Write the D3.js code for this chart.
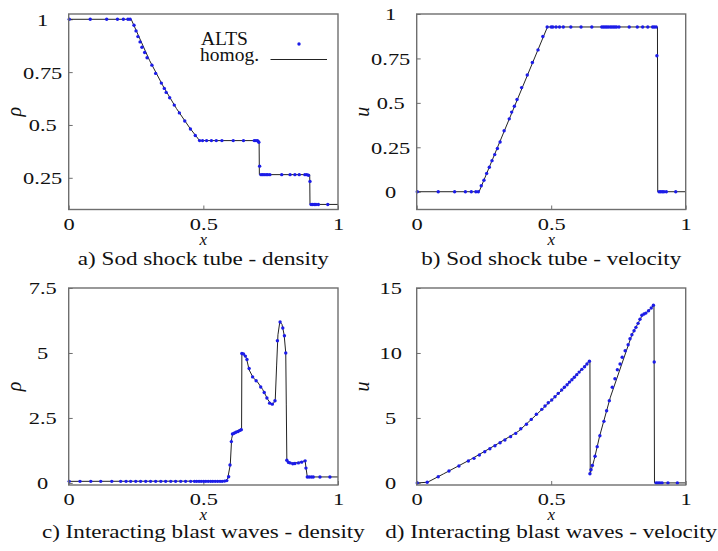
<!DOCTYPE html>
<html>
<head>
<meta charset="utf-8">
<script src="https://cdn.jsdelivr.net/npm/d3@7"></script>
<style>
  body { margin: 0; background: #fff; }
  text { font-family: "Liberation Serif", "Times New Roman", serif; fill: #111; }
  .tl { font-family: "Liberation Serif", serif; font-size: 17px; }
</style>
</head>
<body>
<svg width="718" height="551"></svg>
<script>
// reference solution (homog.) and ALTS points

// a) Sod shock tube - density
const sodRhoHomog = [[0,1],[0.232,1],[0.26,0.92],[0.3,0.806],[0.35,0.685],[0.4,0.578],[0.45,0.485],[0.486,0.426],
  [0.707,0.426],[0.708,0.265],[0.895,0.265],[0.896,0.124],[1,0.124]];
const sodRhoALTS = [[0.002,1],[0.080,1],[0.141,1],[0.181,1],[0.203,1],[0.220,1],[0.228,1],
  [0.2425,0.972],[0.25,0.945],[0.257,0.918],[0.265,0.893],[0.272,0.868],[0.282,0.843],[0.291,0.818],[0.309,0.783],
  [0.323,0.744],[0.344,0.698],[0.355,0.673],[0.362,0.654],[0.375,0.629],[0.392,0.594],[0.411,0.557],[0.431,0.519],
  [0.452,0.481],[0.470,0.450],[0.486,0.426],
  [0.497,0.426],[0.512,0.426],[0.530,0.426],[0.548,0.426],[0.569,0.426],[0.611,0.426],[0.649,0.426],[0.689,0.426],
  [0.695,0.426],[0.701,0.425],[0.706,0.418],[0.709,0.305],
  [0.714,0.265],[0.720,0.265],[0.726,0.265],[0.733,0.265],[0.739,0.265],[0.747,0.265],[0.791,0.265],[0.822,0.265],
  [0.840,0.265],[0.856,0.265],[0.877,0.265],[0.884,0.265],[0.890,0.262],[0.896,0.233],
  [0.900,0.124],[0.906,0.124],[0.912,0.124],[0.918,0.124],[0.927,0.124],[0.962,0.124]];

// b) Sod shock tube - velocity
const sodUHomog = [[0,0],[0.232,0],[0.486,0.927],[0.895,0.927],[0.896,0],[1,0]];
const sodUALTS = [[0.002,0],[0.080,0],[0.141,0],[0.181,0],[0.203,0],[0.220,0],[0.229,0],
  [0.240,0.034],[0.250,0.065],[0.260,0.103],[0.270,0.138],[0.280,0.175],[0.290,0.209],[0.300,0.243],[0.310,0.280],
  [0.325,0.343],[0.344,0.410],[0.353,0.448],[0.363,0.481],[0.373,0.519],[0.390,0.586],[0.411,0.657],[0.430,0.727],
  [0.451,0.798],[0.469,0.873],[0.485,0.927],[0.500,0.927],
  [0.506,0.927],[0.518,0.927],[0.531,0.927],[0.545,0.927],[0.573,0.927],[0.611,0.927],[0.651,0.927],[0.688,0.927],
  [0.694,0.927],[0.700,0.927],[0.706,0.927],[0.712,0.927],[0.719,0.927],[0.725,0.927],[0.731,0.927],[0.737,0.927],
  [0.743,0.927],[0.752,0.927],[0.790,0.927],[0.820,0.927],[0.840,0.927],[0.859,0.927],[0.877,0.927],[0.883,0.927],
  [0.890,0.927],[0.893,0.765],
  [0.901,0],[0.907,0],[0.913,0],[0.919,0],[0.928,0],[0.963,0]];

// c) Interacting blast waves - density
const blastRhoHomog = [[0,0.06],[0.58,0.07],[0.59,0.15],[0.6,0.7],[0.605,1.7],[0.61,1.92],[0.64,2.08],[0.642,2.1],
  [0.643,5.0],[0.65,4.97],[0.66,4.8],[0.67,4.35],[0.685,4.05],[0.7,3.9],[0.72,3.6],[0.74,3.2],[0.75,3.05],[0.76,3.05],
  [0.767,3.2],[0.772,4.5],[0.777,5.7],[0.784,6.2],[0.792,6.1],[0.8,5.7],[0.806,5.0],[0.808,3.0],[0.81,0.9],[0.815,0.8],
  [0.83,0.76],[0.85,0.78],[0.878,0.85],[0.881,0.6],[0.886,0.23],[1,0.23]];
const blastRhoALTS = [[0.002,0.06],[0.042,0.06],[0.082,0.06],[0.119,0.06],[0.160,0.06],[0.193,0.06],[0.213,0.06],
  [0.230,0.06],[0.249,0.06],[0.267,0.06],[0.286,0.06],[0.304,0.06],[0.323,0.06],[0.342,0.06],[0.360,0.06],[0.379,0.06],
  [0.397,0.06],[0.416,0.06],[0.434,0.06],[0.453,0.06],[0.467,0.06],[0.475,0.06],[0.484,0.06],[0.492,0.06],[0.501,0.06],
  [0.509,0.06],[0.518,0.06],[0.527,0.06],[0.535,0.06],[0.544,0.06],[0.553,0.06],[0.562,0.06],[0.570,0.06],[0.579,0.07],
  [0.587,0.09],[0.594,0.24],[0.599,0.69],[0.604,1.59],[0.608,1.88],[0.614,1.91],[0.621,1.95],[0.629,1.98],[0.636,2.02],
  [0.641,2.05],[0.643,4.98],[0.649,4.96],[0.656,4.88],[0.662,4.75],[0.670,4.40],[0.683,4.08],[0.696,3.93],[0.713,3.69],
  [0.726,3.48],[0.736,3.27],[0.746,3.07],[0.756,3.03],[0.766,3.16],[0.775,5.47],[0.785,6.19],[0.795,5.96],[0.801,5.66],
  [0.806,5.0],[0.810,0.87],[0.816,0.79],[0.822,0.77],[0.832,0.74],[0.840,0.75],[0.853,0.77],[0.865,0.80],[0.878,0.85],
  [0.881,0.57],[0.886,0.23],[0.893,0.23],[0.901,0.23],[0.908,0.23],[0.933,0.23],[0.970,0.23]];

// d) Interacting blast waves - velocity
const blastUHomog = [[0,0],[0.04,0.05],[0.1,0.7],[0.2,1.8],[0.3,3.0],[0.38,4.0],[0.45,5.35],[0.55,7.35],[0.644,9.42],
  [0.645,0.7],[0.66,1.8],[0.68,3.6],[0.72,6.6],[0.76,9.0],[0.8,11.4],[0.84,12.95],[0.86,13.2],[0.882,13.7],[0.884,0],[1,0]];
const blastUALTS = [[0.002,0],[0.039,0.05],[0.080,0.48],[0.120,0.92],[0.157,1.30],[0.192,1.69],[0.213,1.89],[0.233,2.15],
  [0.253,2.40],[0.272,2.63],[0.291,2.86],[0.310,3.09],[0.328,3.30],[0.349,3.56],[0.368,3.81],[0.387,4.17],[0.408,4.51],
  [0.426,4.89],[0.445,5.28],[0.465,5.66],[0.477,5.92],[0.489,6.17],[0.502,6.38],[0.514,6.63],[0.526,6.89],[0.539,7.15],
  [0.549,7.36],[0.559,7.56],[0.568,7.76],[0.577,7.94],[0.586,8.13],[0.595,8.33],[0.604,8.53],[0.614,8.74],[0.624,8.94],
  [0.633,9.15],[0.642,9.36],
  [0.644,0.71],[0.648,1.02],[0.653,1.35],[0.663,2.05],[0.671,2.79],[0.681,3.63],[0.696,4.74],[0.706,5.55],[0.716,6.33],
  [0.727,7.36],[0.737,8.02],[0.746,8.71],[0.756,9.15],[0.764,9.67],[0.775,10.17],[0.786,10.63],[0.793,11.1],[0.800,11.4],
  [0.808,11.71],[0.815,11.97],[0.823,12.28],[0.830,12.59],[0.837,12.9],[0.845,13.0],[0.852,13.07],[0.862,13.25],
  [0.872,13.46],[0.880,13.67],[0.883,9.30],
  [0.890,0],[0.897,0],[0.904,0],[0.912,0],[0.934,0],[0.969,0]];

const xTicks = [0, 0.5, 1];
const xTickLabels = ["0", "0.5", "1"];

const panels = [
  { homog: sodRhoHomog, alts: sodRhoALTS, ylab: "ρ", yDomain: [0.1, 1.025],
    yTicks: [0.25, 0.5, 0.75, 1], yTickLabels: ["0.25", "0.5", "0.75", "1"],
    caption: "a) Sod shock tube - density", box: [68.7, 338, 14, 209.5], capDy: 55.5, legend: true },
  { homog: sodUHomog, alts: sodUALTS, ylab: "u", yDomain: [-0.1, 1],
    yTicks: [0, 0.25, 0.5, 0.75, 1], yTickLabels: ["0", "0.25", "0.5", "0.75", "1"],
    caption: "b) Sod shock tube - velocity", box: [416.7, 685.7, 14, 209.5], capDy: 55.5 },
  { homog: blastRhoHomog, alts: blastRhoALTS, ylab: "ρ", yDomain: [-0.08, 7.5],
    yTicks: [0, 2.5, 5, 7.5], yTickLabels: ["0", "2.5", "5", "7.5"],
    caption: "c) Interacting blast waves - density", box: [68.7, 338, 288, 485], capDy: 53 },
  { homog: blastUHomog, alts: blastUALTS, ylab: "u", yDomain: [-0.16, 15],
    yTicks: [0, 5, 10, 15], yTickLabels: ["0", "5", "10", "15"],
    caption: "d) Interacting blast waves - velocity", box: [416.7, 685.7, 288, 485], capDy: 53 }
];

const svg = d3.select("svg");
const dotColor = "#1c1ce8";
const borderColor = "#6e6e6e";
const serif = '"Liberation Serif", "Times New Roman", serif';

panels.forEach(function(p) {
  const [x0, x1, y0, y1] = p.box;
  const xScale = d3.scaleLinear().domain([0, 1]).range([x0, x1]);
  const yScale = d3.scaleLinear().domain(p.yDomain).range([y1, y0]);
  const g = svg.append("g");

  // ticks point inward, labels centred like the gnuplot/latex output
  const xAxis = d3.axisBottom(xScale).tickValues(xTicks)
    .tickFormat((d, i) => xTickLabels[i]).tickSizeInner(-4).tickSizeOuter(0);
  const yAxis = d3.axisLeft(yScale).tickValues(p.yTicks)
    .tickFormat((d, i) => p.yTickLabels[i]).tickSizeInner(-4).tickSizeOuter(0);

  const gx = g.append("g").attr("transform", "translate(0," + y1 + ")").call(xAxis);
  const gy = g.append("g").attr("transform", "translate(" + x0 + ",0)").call(yAxis);
  [gx, gy].forEach(a => {
    a.attr("font-family", null).attr("font-size", null);
    a.select(".domain").remove();
    a.selectAll(".tick line").attr("stroke", borderColor).attr("stroke-width", 1);
  });
  gx.selectAll(".tick text")
    .attr("x", null).attr("y", null).attr("dy", null)
    .attr("class", "tl").attr("text-anchor", "middle")
    .attr("transform", "translate(0,20) scale(1.32,1)").attr("fill", "#111");
  gy.selectAll(".tick text")
    .attr("x", null).attr("dy", "0.35em")
    .attr("class", "tl").attr("text-anchor", "middle")
    .attr("transform", "translate(-26,0) scale(1.32,1)").attr("fill", "#111");

  // reference line
  const line = d3.line().x(d => xScale(d[0])).y(d => yScale(d[1]));
  g.append("path").datum(p.homog)
    .attr("d", line).attr("fill", "none").attr("stroke", "#222").attr("stroke-width", 1);

  // ALTS points
  g.selectAll("circle.alts").data(p.alts).enter().append("circle")
    .attr("class", "alts")
    .attr("cx", d => xScale(d[0])).attr("cy", d => yScale(d[1]))
    .attr("r", 1.7).attr("fill", dotColor);

  // frame
  g.append("rect").attr("x", x0).attr("y", y0).attr("width", x1 - x0).attr("height", y1 - y0)
    .attr("fill", "none").attr("stroke", borderColor).attr("stroke-width", 1.4);

  // axis labels
  g.append("text").attr("x", (x0 + x1) / 2).attr("y", y1 + 35)
    .attr("text-anchor", "middle").style("font-family", serif)
    .style("font-style", "italic").style("font-size", "17px").text("x");
  g.append("text")
    .attr("transform", "translate(" + (x0 - 48) + "," + ((y0 + y1) / 2) + ") rotate(-90)")
    .attr("text-anchor", "middle").style("font-family", serif)
    .style("font-style", "italic").style("font-size", "20px").text(p.ylab);

  // caption
  g.append("text")
    .attr("transform", "translate(" + ((x0 + x1) / 2) + "," + (y1 + p.capDy) + ") scale(1.25,1)")
    .attr("text-anchor", "middle").style("font-family", serif).style("font-size", "18.5px").text(p.caption);

  if (p.legend) {
    g.append("text").attr("x", 201).attr("y", 45).style("font-family", serif).style("font-size", "19.5px").text("ALTS");
    g.append("text").attr("x", 200).attr("y", 60.5).style("font-family", serif).style("font-size", "19.5px").text("homog.");
    g.append("circle").attr("cx", 299).attr("cy", 44).attr("r", 1.7).attr("fill", dotColor);
    g.append("line").attr("x1", 270.5).attr("x2", 327).attr("y1", 59.5).attr("y2", 59.5)
      .attr("stroke", "#222").attr("stroke-width", 1);
  }
});
</script>
</body>
</html>
